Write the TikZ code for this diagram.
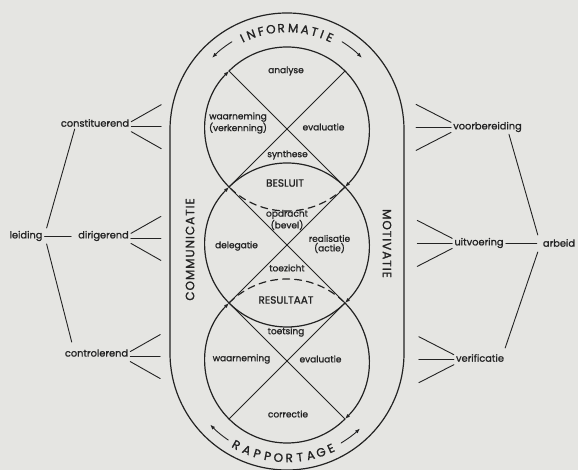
\documentclass[tikz,border=0pt]{standalone}
\usepackage{fontspec}
\setmainfont{Poppins}[FakeBold=1.2]
\newfontfamily\widefont{Poppins}[LetterSpace=8,FakeBold=1.2]
\usetikzlibrary{arrows.meta,calc,positioning}
\definecolor{paper}{RGB}{229,229,226}
\definecolor{ink}{RGB}{35,35,35}

\begin{document}
\begin{tikzpicture}[x=1pt, y=1pt, line cap=round, line join=round,
  every node/.style={font=\fontsize{9}{9.5}\selectfont, text=ink, inner sep=2pt},
  ring/.style={draw=ink, line width=1.2pt},
  flow/.style={ring, -{Latex[length=5pt,width=3.8pt]}},
  spoke/.style={draw=ink, line width=0.9pt},
  caps/.style={font=\fontsize{12}{12}\selectfont, inner sep=0pt},
  side/.style={font=\widefont\fontsize{12}{12}\selectfont},
  stage/.style={font=\fontsize{10.5}{10.5}\selectfont},
  outer/.style={font=\fontsize{9.8}{10}\selectfont},
  zone/.style={circle, minimum size=164pt, inner sep=0pt, outer sep=0pt}]
  \fill[paper] (0,0) rectangle (578,470);
  \useasboundingbox (0,0) rectangle (578,470);

  % outer band
  \coordinate (otop) at (287,340);
  \coordinate (obot) at (287,117);
  \draw[ring] (170,117) -- (170,340) arc[start angle=180, end angle=0, radius=117pt]
    -- (404,117) arc[start angle=0, end angle=-180, radius=117pt] -- cycle;

  % three circles
  \node[zone] (top) at (287,341) {};
  \node[zone] (mid) at (287,225) {};
  \node[zone] (bot) at (287,109) {};
  \foreach \c in {top,mid,bot} {
    \draw[flow] (\c.225) arc[start angle=225, end angle=135, radius=82pt];
    \draw[flow] (\c.45) arc[start angle=45, end angle=-45, radius=82pt];
    \draw[spoke] (\c.135) -- (\c.-45) (\c.45) -- (\c.-135);
  }
  \draw[ring] (top.135) arc[start angle=135, end angle=45, radius=82pt];
  \draw[ring, dash pattern=on 7pt off 5pt] (top.-45) arc[start angle=-45, end angle=-135, radius=82pt];
  \draw[ring] (mid.135) arc[start angle=135, end angle=45, radius=82pt];
  \draw[ring] (mid.-45) arc[start angle=-45, end angle=-135, radius=82pt];
  \draw[ring, dash pattern=on 7pt off 5pt] (bot.135) arc[start angle=135, end angle=45, radius=82pt];
  \draw[ring] (bot.-45) arc[start angle=-45, end angle=-135, radius=82pt];

  % text on the band
  \foreach \l/\a [count=\i] in {I/116,N/110.6,F/104.8,O/99.1,R/93.3,M/86.5,A/79.8,T/74.4,I/69.9,E/65.2}
    \node[caps, rotate=\a-90] (info\i) at ([shift={(\a:102pt)}]otop) {\l};
  \draw[flow, line width=0.9pt] ([shift={(122:104pt)}]otop) arc[start angle=122, end angle=136, radius=104pt];
  \draw[flow, line width=0.9pt] ([shift={(58:104pt)}]otop) arc[start angle=58, end angle=44, radius=104pt];
  \foreach \l/\a [count=\i] in {R/-118.9,A/-112.5,P/-106.5,P/-100.6,O/-94.7,R/-88.8,T/-82.9,A/-77,G/-71.1,E/-65.3}
    \node[caps, rotate=\a+90] (rapp\i) at ([shift={(\a:105pt)}]obot) {\l};
  \draw[flow, line width=0.9pt] ([shift={(-124:105pt)}]obot) arc[start angle=-124, end angle=-137, radius=105pt];
  \draw[flow, line width=0.9pt] ([shift={(-59:105pt)}]obot) arc[start angle=-59, end angle=-46, radius=105pt];
  \node[side, rotate=90] (comm) at (190,220.5) {COMMUNICATIE};
  \node[side, rotate=-90] (motiv) at (387,226.5) {MOTIVATIE};

  % labels in the circles
  \node (analyse) at (286,399) {analyse};
  \node[align=center] (verk) at (238,347) {waarneming\\(verkenning)};
  \node (eval1) at (323.5,343) {evaluatie};
  \node (synth) at (287.5,315) {synthese};
  \node[stage] (besluit) at (285,287) {BESLUIT};
  \node[align=center] (opdr) at (287,250) {opdracht\\(bevel)};
  \node (deleg) at (236.5,224) {delegatie};
  \node[align=center] (real) at (329.5,226) {realisatie\\(actie)};
  \node (toez) at (287,202) {toezicht};
  \node[stage] (result) at (286,170) {RESULTAAT};
  \node (toets) at (286,138) {toetsing};
  \node (waarn) at (241.5,111) {waarneming};
  \node (eval2) at (320.5,111) {evaluatie};
  \node (corr) at (288,56) {correctie};

  % leiding side
  \node[outer] (leiding) at (26,234) {leiding};
  \node[outer] (constit) at (95,347) {constituerend};
  \node[outer] (dirig) at (103.5,234) {dirigerend};
  \node[outer] (control) at (96.5,117) {controlerend};
  \draw[spoke] ([xshift=2pt,yshift=8pt]leiding.east) -- ([xshift=16pt]constit.south west);
  \draw[spoke, shorten >=5pt] (leiding) -- (dirig);
  \draw[spoke] ([xshift=2pt,yshift=-8pt]leiding.east) -- ([xshift=9pt,yshift=5pt]control.north west);
  \foreach \n in {constit,dirig,control} {
    \draw[spoke] ([yshift=5pt]\n.base east) -- ++(30,17) coordinate (\n-a);
    \draw[spoke] (\n.base east) -- ++(30,0) coordinate (\n-b);
    \draw[spoke] ([yshift=-5pt]\n.base east) -- ++(30,-17) coordinate (\n-c);
  }

  % arbeid side
  \node[outer] (voorb) at (487.5,343) {voorbereiding};
  \node[outer] (uitv) at (479,227) {uitvoering};
  \node[outer] (verif) at (480,112) {verificatie};
  \node[outer] (arbeid) at (559,227) {arbeid};
  \foreach \n in {voorb,uitv,verif} {
    \draw[spoke] ([yshift=7pt]\n.base west) -- ++(-35,18) coordinate (\n-a);
    \draw[spoke] ([yshift=2pt]\n.base west) -- ++(-35,0) coordinate (\n-b);
    \draw[spoke] ([yshift=-3pt]\n.base west) -- ++(-35,-18) coordinate (\n-c);
  }
  \draw[spoke] ([xshift=-15pt]voorb.south east) -- ([xshift=-3pt,yshift=8pt]arbeid.west);
  \draw[spoke, shorten >=4pt] (uitv) -- (arbeid);
  \draw[spoke] ([xshift=-1pt,yshift=4pt]verif.north east) -- ([xshift=-3pt,yshift=-9pt]arbeid.west);
\end{tikzpicture}
\end{document}
